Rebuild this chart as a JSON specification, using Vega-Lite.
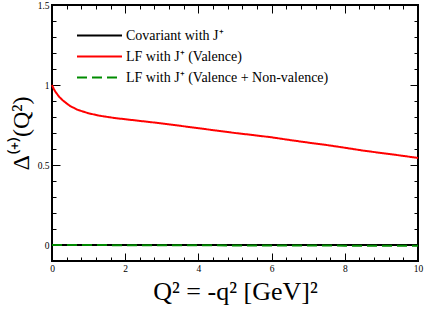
{
  "$schema": "https://vega.github.io/schema/vega-lite/v6.json",
  "width": 366,
  "height": 256,
  "autosize": {"type": "none"},
  "padding": {"left": 52, "top": 5, "right": 7, "bottom": 49},
  "background": "white",
  "config": {
    "view": {"stroke": "black", "strokeWidth": 2},
    "axis": {"grid": false, "domain": false,
      "labelFont": "Liberation Serif", "labelFontSize": 9.5, "labelColor": "black",
      "titleFont": "Liberation Serif", "titleFontWeight": "normal", "titleColor": "black"}
  },
  "data": {"values": [
    {"series": "Covariant with J⁺", "q2": 0, "d": 0},
    {"series": "Covariant with J⁺", "q2": 1, "d": 0},
    {"series": "Covariant with J⁺", "q2": 2, "d": 0},
    {"series": "Covariant with J⁺", "q2": 3, "d": 0},
    {"series": "Covariant with J⁺", "q2": 4, "d": 0},
    {"series": "Covariant with J⁺", "q2": 5, "d": 0},
    {"series": "Covariant with J⁺", "q2": 6, "d": 0},
    {"series": "Covariant with J⁺", "q2": 7, "d": 0},
    {"series": "Covariant with J⁺", "q2": 8, "d": 0},
    {"series": "Covariant with J⁺", "q2": 9, "d": 0},
    {"series": "Covariant with J⁺", "q2": 10, "d": 0},
    {"series": "LF with J⁺ (Valence)", "q2": 0, "d": 1.0},
    {"series": "LF with J⁺ (Valence)", "q2": 0.05, "d": 0.975},
    {"series": "LF with J⁺ (Valence)", "q2": 0.1, "d": 0.955},
    {"series": "LF with J⁺ (Valence)", "q2": 0.2, "d": 0.925},
    {"series": "LF with J⁺ (Valence)", "q2": 0.3, "d": 0.903},
    {"series": "LF with J⁺ (Valence)", "q2": 0.4, "d": 0.885},
    {"series": "LF with J⁺ (Valence)", "q2": 0.5, "d": 0.868},
    {"series": "LF with J⁺ (Valence)", "q2": 0.7, "d": 0.845},
    {"series": "LF with J⁺ (Valence)", "q2": 1.0, "d": 0.823},
    {"series": "LF with J⁺ (Valence)", "q2": 1.3, "d": 0.808},
    {"series": "LF with J⁺ (Valence)", "q2": 1.7, "d": 0.794},
    {"series": "LF with J⁺ (Valence)", "q2": 2.0, "d": 0.786},
    {"series": "LF with J⁺ (Valence)", "q2": 2.5, "d": 0.773},
    {"series": "LF with J⁺ (Valence)", "q2": 3.0, "d": 0.76},
    {"series": "LF with J⁺ (Valence)", "q2": 3.5, "d": 0.745},
    {"series": "LF with J⁺ (Valence)", "q2": 4.0, "d": 0.73},
    {"series": "LF with J⁺ (Valence)", "q2": 4.5, "d": 0.715},
    {"series": "LF with J⁺ (Valence)", "q2": 5.0, "d": 0.70},
    {"series": "LF with J⁺ (Valence)", "q2": 5.5, "d": 0.687},
    {"series": "LF with J⁺ (Valence)", "q2": 6.0, "d": 0.673},
    {"series": "LF with J⁺ (Valence)", "q2": 6.5, "d": 0.656},
    {"series": "LF with J⁺ (Valence)", "q2": 7.0, "d": 0.64},
    {"series": "LF with J⁺ (Valence)", "q2": 7.5, "d": 0.625},
    {"series": "LF with J⁺ (Valence)", "q2": 8.0, "d": 0.608},
    {"series": "LF with J⁺ (Valence)", "q2": 8.5, "d": 0.59},
    {"series": "LF with J⁺ (Valence)", "q2": 9.0, "d": 0.575},
    {"series": "LF with J⁺ (Valence)", "q2": 9.5, "d": 0.56},
    {"series": "LF with J⁺ (Valence)", "q2": 10, "d": 0.544},
    {"series": "LF with J⁺ (Valence + Non-valence)", "q2": 0, "d": 0},
    {"series": "LF with J⁺ (Valence + Non-valence)", "q2": 1, "d": -0.0005},
    {"series": "LF with J⁺ (Valence + Non-valence)", "q2": 2, "d": -0.001},
    {"series": "LF with J⁺ (Valence + Non-valence)", "q2": 3, "d": -0.0015},
    {"series": "LF with J⁺ (Valence + Non-valence)", "q2": 4, "d": -0.002},
    {"series": "LF with J⁺ (Valence + Non-valence)", "q2": 5, "d": -0.0025},
    {"series": "LF with J⁺ (Valence + Non-valence)", "q2": 6, "d": -0.003},
    {"series": "LF with J⁺ (Valence + Non-valence)", "q2": 7, "d": -0.0035},
    {"series": "LF with J⁺ (Valence + Non-valence)", "q2": 8, "d": -0.004},
    {"series": "LF with J⁺ (Valence + Non-valence)", "q2": 9, "d": -0.0045},
    {"series": "LF with J⁺ (Valence + Non-valence)", "q2": 10, "d": -0.005}
  ]},
  "layer": [
    {
      "mark": {"type": "line", "strokeWidth": 2},
      "encoding": {
        "x": {"field": "q2", "type": "quantitative", "scale": {"domain": [0, 10], "nice": false, "zero": false},
          "axis": {"orient": "bottom", "values": [0, 2, 4, 6, 8, 10], "ticks": true, "tickColor": "#000000", "tickWidth": 1, "tickSize": -8, "labelPadding": 10,
            "title": "Q² = -q² [GeV]²", "titleFontSize": 26, "titlePadding": 6, "labelFlush": false}},
        "y": {"field": "d", "type": "quantitative", "scale": {"domain": [-0.1, 1.5], "nice": false, "zero": false},
          "axis": {"orient": "left", "values": [0, 0.5, 1, 1.5], "ticks": true, "tickColor": "#000000", "tickWidth": 1, "tickSize": -8, "labelPadding": 11, "labelExpr": "'' + datum.value",
            "title": "Δ⁽⁺⁾(Q²)", "titleFontSize": 24, "titlePadding": 4, "labelFlush": false}},
        "color": {"field": "series", "type": "nominal",
          "scale": {"domain": ["Covariant with J⁺", "LF with J⁺ (Valence)", "LF with J⁺ (Valence + Non-valence)"], "range": ["black", "#ff0000", "#008b00"]},
          "legend": {"title": null, "orient": "none", "legendX": 39, "legendY": 22, "symbolType": "M-3,0H3", "symbolSize": 225,
            "symbolStrokeWidth": 2, "labelFont": "Liberation Serif", "labelFontSize": 14, "labelColor": "black", "labelOffset": 18,
            "rowPadding": 5, "padding": 0, "labelLimit": 400}},
        "strokeDash": {"field": "series", "type": "nominal",
          "scale": {"domain": ["Covariant with J⁺", "LF with J⁺ (Valence)", "LF with J⁺ (Valence + Non-valence)"], "range": [[1, 0], [1, 0], [10, 5]]},
          "legend": null}
      }
    },
    {
      "mark": {"type": "line", "opacity": 0},
      "encoding": {
        "x": {"field": "q2", "type": "quantitative",
          "axis": {"orient": "bottom", "values": [0.4, 0.8, 1.2, 1.6, 2.4, 2.8, 3.2, 3.6, 4.4, 4.8, 5.2, 5.6, 6.4, 6.8, 7.2, 7.6, 8.4, 8.8, 9.2, 9.6], "ticks": true, "tickColor": "#000000", "tickWidth": 1, "tickSize": -4, "labels": false, "title": null}},
        "y": {"field": "d", "type": "quantitative",
          "axis": {"orient": "left", "values": [-0.1, 0.1, 0.2, 0.3, 0.4, 0.6, 0.7, 0.8, 0.9, 1.1, 1.2, 1.3, 1.4], "ticks": true, "tickColor": "#000000", "tickWidth": 1, "tickSize": -4, "labels": false, "title": null}}
      }
    },
    {
      "mark": {"type": "line", "opacity": 0},
      "encoding": {
        "x": {"field": "q2", "type": "quantitative",
          "axis": {"orient": "top", "values": [0, 2, 4, 6, 8, 10], "ticks": true, "tickColor": "#000000", "tickWidth": 1, "tickSize": -8, "labels": false, "title": null}},
        "y": {"field": "d", "type": "quantitative",
          "axis": {"orient": "right", "values": [0, 0.5, 1, 1.5], "ticks": true, "tickColor": "#000000", "tickWidth": 1, "tickSize": -8, "labels": false, "title": null}}
      }
    },
    {
      "mark": {"type": "line", "opacity": 0},
      "encoding": {
        "x": {"field": "q2", "type": "quantitative",
          "axis": {"orient": "top", "values": [0.4, 0.8, 1.2, 1.6, 2.4, 2.8, 3.2, 3.6, 4.4, 4.8, 5.2, 5.6, 6.4, 6.8, 7.2, 7.6, 8.4, 8.8, 9.2, 9.6], "ticks": true, "tickColor": "#000000", "tickWidth": 1, "tickSize": -4, "labels": false, "title": null}},
        "y": {"field": "d", "type": "quantitative",
          "axis": {"orient": "right", "values": [-0.1, 0.1, 0.2, 0.3, 0.4, 0.6, 0.7, 0.8, 0.9, 1.1, 1.2, 1.3, 1.4], "ticks": true, "tickColor": "#000000", "tickWidth": 1, "tickSize": -4, "labels": false, "title": null}}
      }
    }
  ],
  "resolve": {"axis": {"x": "independent", "y": "independent"}}
}
